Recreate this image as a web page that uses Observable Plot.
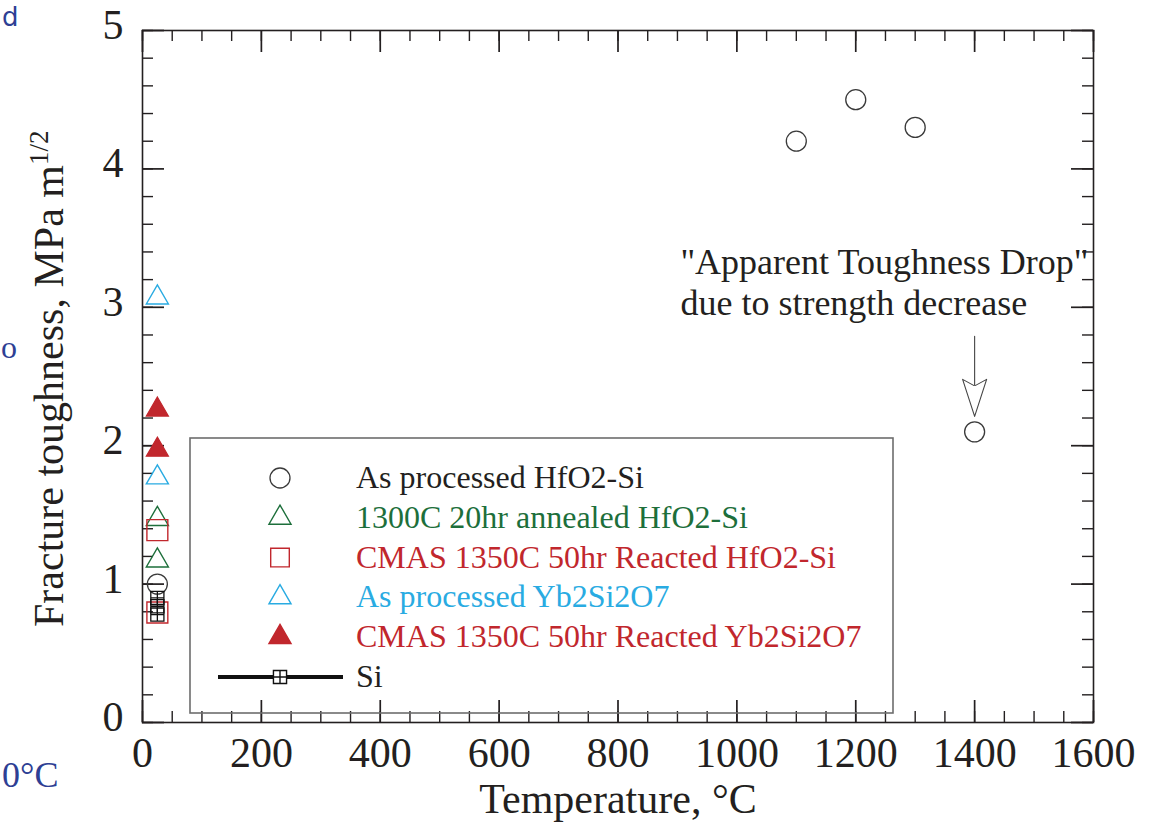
<!DOCTYPE html>
<html><head><meta charset="utf-8">
<script src="https://cdn.jsdelivr.net/npm/d3@7"></script>
<script src="https://cdn.jsdelivr.net/npm/@observablehq/plot@0.6"></script>
<style>
body{margin:0;background:#fff}
#wrap{position:relative;width:1157px;height:822px;overflow:hidden;background:#fff}
#wrap svg{position:absolute;left:0;top:0}
</style>
</head><body><div id="wrap"></div>
<script>
// ---------- data ----------
const hfo2AsProcessedT = [25, 1100, 1200, 1300, 1400];
const hfo2AsProcessedK = [1.0, 4.2, 4.5, 4.3, 2.1];
const hfo2AnnealedT = [25, 25];
const hfo2AnnealedK = [1.47, 1.17];
const hfo2CmasT = [25, 25];
const hfo2CmasK = [1.39, 0.795];
const ybAsProcessedT = [25, 25];
const ybAsProcessedK = [3.07, 1.77];
const ybCmasT = [25, 25];
const ybCmasK = [2.26, 1.97];
const siT = [25, 25, 25];
const siK = [0.78, 0.84, 0.90];

const xTickLabels = [0, 200, 400, 600, 800, 1000, 1200, 1400, 1600];
const yTickLabels = [0, 1, 2, 3, 4, 5];
const xMinorTicks = d3.range(0, 1601, 50);
const yMinorTicks = d3.range(0, 5.001, 0.2);

const legendLabels = ["As processed HfO2-Si", "1300C 20hr annealed HfO2-Si", "CMAS 1350C 50hr Reacted HfO2-Si", "As processed Yb2Si2O7", "CMAS 1350C 50hr Reacted Yb2Si2O7", "Si"];
const annotationText = ["\"Apparent Toughness Drop\"\ndue to strength decrease"];
const annotationX = [905];
const annotationY = [3.19];
const arrowX = [1400];
const arrowY = [2.79];

const xTitle = "Temperature, °C";
const yTitle = "Fracture toughness, MPa m";
const yTitleSup = "1/2";

// ---------- styles ----------
const INK = "#231f20", GREEN = "#1d6f3b", RED = "#c1272d", CYAN = "#29abe2", BLUE = "#2e3f94";
const W = 1157, H = 822, mL = 142, mR = 64, mT = 30, mB = 100;
const fw = W - mL - mR, fh = H - mT - mB;
const FONT = "Liberation Serif, Times New Roman, serif";

const pts = (T, K) => T.map((t, i) => ({t, k: K[i]}));

const siSymbol = {
  draw(ctx, size) {
    const h = Math.sqrt(size) / 2;
    ctx.moveTo(-h, -h); ctx.lineTo(h, -h); ctx.lineTo(h, h); ctx.lineTo(-h, h); ctx.closePath();
    ctx.moveTo(0, -h); ctx.lineTo(0, h); ctx.moveTo(-h, 0); ctx.lineTo(h, 0);
  }
};
const hollowArrow = {
  draw(ctx, l) {
    const hl = 37, hw = 12, notch = 6;
    ctx.moveTo(0, 0); ctx.lineTo(0, -(l - hl + notch));
    ctx.moveTo(-1, -(l - hl + notch)); ctx.lineTo(-hw, -(l - hl)); ctx.lineTo(0, -l);
    ctx.lineTo(hw, -(l - hl)); ctx.lineTo(1, -(l - hl + notch));
  }
};

const TRI_R = 8.2, SQ_R = 11.8, CIRC_R = 10, SI_R = 7.4;

const plot = Plot.plot({
  width: W, height: H,
  marginLeft: mL, marginRight: mR, marginTop: mT, marginBottom: mB,
  x: {domain: [0, 1600]},
  y: {domain: [0, 5]},
  style: {fontFamily: FONT, color: INK, background: "transparent", overflow: "visible"},
  marks: [
    Plot.frame({stroke: INK, strokeWidth: 1.6}),
    // inward ticks: bottom, top, left, right
    Plot.ruleX(xMinorTicks, {insetTop: fh - 11, stroke: INK, strokeWidth: 1.4}),
    Plot.ruleX(xTickLabels, {insetTop: fh - 22, stroke: INK, strokeWidth: 1.7}),
    Plot.ruleX(xMinorTicks, {insetBottom: fh - 11, stroke: INK, strokeWidth: 1.4}),
    Plot.ruleX(xTickLabels, {insetBottom: fh - 22, stroke: INK, strokeWidth: 1.7}),
    Plot.ruleY(yMinorTicks, {insetRight: fw - 11, stroke: INK, strokeWidth: 1.4}),
    Plot.ruleY(yTickLabels, {insetRight: fw - 22, stroke: INK, strokeWidth: 1.7}),
    Plot.ruleY(yMinorTicks, {insetLeft: fw - 11, stroke: INK, strokeWidth: 1.4}),
    Plot.ruleY(yTickLabels, {insetLeft: fw - 22, stroke: INK, strokeWidth: 1.7}),
    Plot.axisX({ticks: xTickLabels, tickSize: 0, tickPadding: 15, fontSize: 42, label: null, tickFormat: d => String(d), fill: INK}),
    Plot.axisY({ticks: yTickLabels, tickSize: 0, tickPadding: 19, fontSize: 42, label: null, dy: -5, tickFormat: d => String(d), fill: INK}),
    // data
    Plot.dot(pts(hfo2AsProcessedT, hfo2AsProcessedK), {x: "t", y: "k", r: CIRC_R, stroke: "#3a3a3a", strokeWidth: 1.3, fill: "none"}),
    Plot.dot(pts(hfo2AnnealedT, hfo2AnnealedK), {x: "t", y: "k", symbol: "triangle", r: TRI_R, stroke: GREEN, strokeWidth: 1.4, fill: "none"}),
    Plot.dot(pts(hfo2CmasT, hfo2CmasK), {x: "t", y: "k", symbol: "square", r: SQ_R, stroke: RED, strokeWidth: 1.4, fill: "none"}),
    Plot.dot(pts(ybAsProcessedT, ybAsProcessedK), {x: "t", y: "k", symbol: "triangle", r: TRI_R, stroke: CYAN, strokeWidth: 1.4, fill: "none"}),
    Plot.dot(pts(ybCmasT, ybCmasK), {x: "t", y: "k", symbol: "triangle", r: TRI_R, stroke: RED, strokeWidth: 1.2, fill: RED}),
    Plot.dot(pts(siT, siK), {x: "t", y: "k", symbol: siSymbol, r: SI_R, stroke: "#111", strokeWidth: 1.3, fill: "none"}),
    // annotation
    Plot.text(annotationText, {x: annotationX, y: annotationY, text: d => d, textAnchor: "start", lineAnchor: "middle", lineHeight: 1.14, fontSize: 36, fill: INK}),
    Plot.vector(arrowX.map((x, i) => ({x, y: arrowY[i]})), {x: "x", y: "y", length: 80, rotate: 180, anchor: "start", shape: hollowArrow, stroke: "#444", strokeWidth: 1.1}),
    // x title
    Plot.text([xTitle], {frameAnchor: "bottom", dy: 77, fontSize: 42, fill: INK, lineAnchor: "middle"})
  ]
});

const wrap = document.getElementById("wrap");
wrap.appendChild(plot);

// ---------- overlay: y title, legend, cropped slide text ----------
const ov = d3.select(wrap).append("svg")
  .attr("width", W).attr("height", H)
  .style("pointer-events", "none")
  .attr("font-family", FONT);

const yt = ov.append("text")
  .attr("transform", "translate(63,627) rotate(-90)")
  .attr("font-size", 42).attr("fill", INK)
  .text(yTitle);
yt.append("tspan").attr("font-size", 27).attr("dy", -15).text(yTitleSup);

// legend
const lg = ov.append("g");
lg.append("rect").attr("x", 190).attr("y", 438).attr("width", 703).attr("height", 275)
  .attr("fill", "none").attr("stroke", "#6d6d6d").attr("stroke-width", 1.6);

const legendColors = [INK, GREEN, RED, CYAN, RED, INK];
const legendSymbols = [
  {sym: d3.symbolCircle, r: CIRC_R, stroke: "#3a3a3a", fill: "none"},
  {sym: d3.symbolTriangle, r: TRI_R, stroke: GREEN, fill: "none"},
  {sym: d3.symbolSquare, r: 10.5, stroke: RED, fill: "none"},
  {sym: d3.symbolTriangle, r: TRI_R, stroke: CYAN, fill: "none"},
  {sym: d3.symbolTriangle, r: TRI_R, stroke: RED, fill: RED},
  {sym: siSymbol, r: SI_R, stroke: "#111", fill: "#fff"}
];
legendLabels.forEach((lab, i) => {
  const cy = 478 + i * 39.8;
  const s = legendSymbols[i];
  if (i === legendLabels.length - 1) {
    lg.append("line").attr("x1", 218).attr("x2", 343).attr("y1", cy).attr("y2", cy)
      .attr("stroke", "#111").attr("stroke-width", 4);
  }
  if (s.sym === d3.symbolCircle) {
    lg.append("circle").attr("cx", 280).attr("cy", cy).attr("r", s.r)
      .attr("fill", s.fill).attr("stroke", s.stroke).attr("stroke-width", 1.3);
  } else {
    lg.append("path").attr("transform", `translate(280,${cy})`)
      .attr("d", d3.symbol(s.sym, Math.PI * s.r * s.r)())
      .attr("fill", s.fill).attr("stroke", s.stroke).attr("stroke-width", 1.4);
  }
  lg.append("text").attr("x", 356).attr("y", cy + 10).attr("font-size", 32)
    .attr("fill", legendColors[i]).text(lab);
});

// cropped slide text at left edge
ov.append("text").attr("x", 2).attr("y", 26).attr("font-size", 26)
  .attr("font-family", "DejaVu Sans, sans-serif").attr("fill", BLUE).text("d");
ov.append("text").attr("x", 1).attr("y", 358).attr("font-size", 32).attr("fill", BLUE).text("o");
ov.append("text").attr("x", 2).attr("y", 787).attr("font-size", 36).attr("fill", BLUE).text("0°C");
</script></body></html>
